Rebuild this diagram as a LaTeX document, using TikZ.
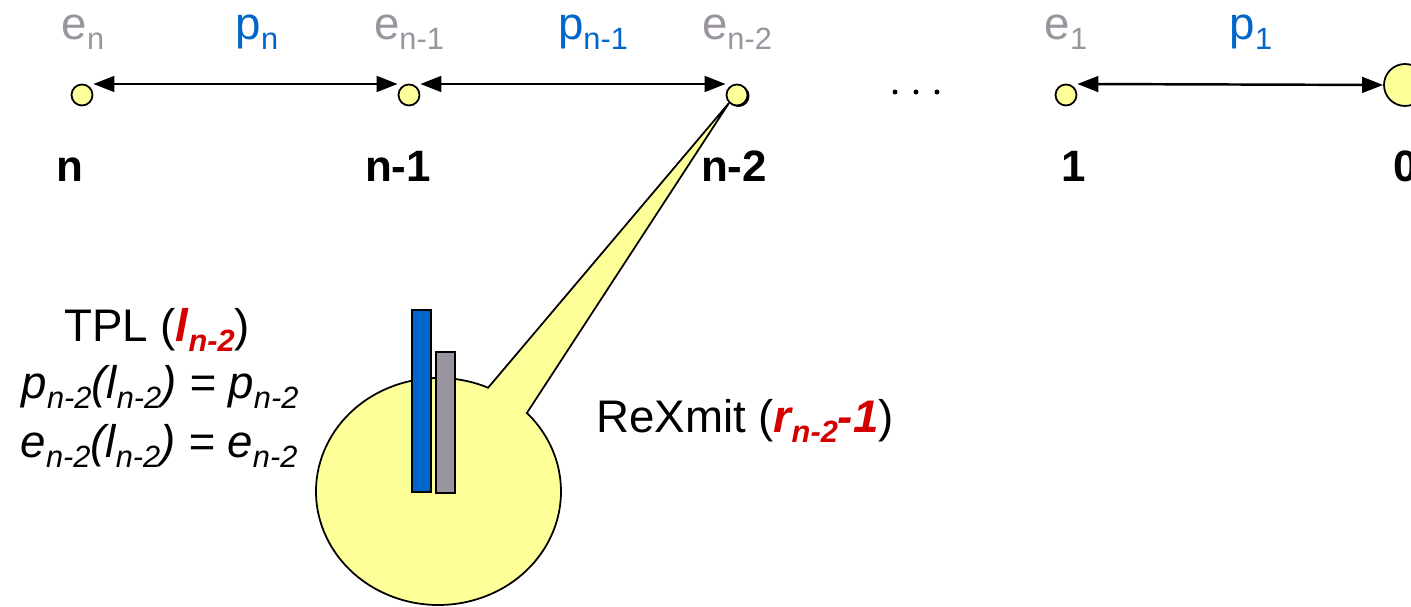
\documentclass[tikz,border=0pt]{standalone}
\usepackage{fontspec}
\setmainfont{Liberation Sans}
\usetikzlibrary{arrows.meta,positioning,calc}

\definecolor{nodeyellow}{HTML}{FFFF99}
\definecolor{errgrey}{HTML}{9A949E}
\definecolor{pblue}{HTML}{0066CC}
\definecolor{rexred}{HTML}{D40000}
\newcommand{\lowsub}[1]{\raisebox{-0.2em}{\fontsize{17.5}{20}\selectfont #1}}

\begin{document}
\begin{tikzpicture}[x=0.02cm,y=0.02cm,
  hop/.style={circle,draw,fill=nodeyellow,line width=1pt,minimum size=0.42cm,inner sep=0pt},
  link/.style={{Triangle[length=12pt,width=9pt]}-{Triangle[length=12pt,width=9pt]},line width=1.4pt},
  errlbl/.style={anchor=base,text=errgrey,font=\fontsize{26}{30}\selectfont},
  plbl/.style={anchor=base,text=pblue,font=\fontsize{26}{30}\selectfont},
  idx/.style={anchor=base,font=\fontsize{25}{30}\selectfont\bfseries},
  txt/.style={anchor=base,font=\fontsize{26}{30}\selectfont},
  bar/.style={draw,line width=0.8pt}]
\useasboundingbox (0,0) rectangle (1411,607);

% Callout balloon of node n-2
\filldraw[fill=nodeyellow,line width=1pt] (438.5,115.5) ++(66.1:122.5 and 113.5)
  arc[start angle=66.1,end angle=403.8,x radius=122.5,y radius=113.5] -- (729,504) -- cycle;

% Transmit power and retransmission bars
\filldraw[bar,fill=pblue] (412,115) rectangle (431,297);
\filldraw[bar,fill=errgrey] (436,114) rectangle (455,255);

% Relay nodes
\node[hop] (cn) at (82,512) {};
\node[hop] (cn1) at (409,512) {};
\fill (738.5,511) circle[radius=11];
\node[hop] (cn2) at (737,512) {};
\node[hop] (c1) at (1066,512) {};
\node[hop,minimum size=0.84cm] (sink) at (1405,522) {};

% Links
\draw[link] ($(cn.east)+(0,11)$) -- ($(cn1.west)+(0,11)$);
\draw[link] ($(cn1.east)+(0,11)$) -- ($(cn2.west)+(0,11)$);
\draw[link] ($(c1.east)+(0,11)$) -- (sink.west);
\foreach \x in {895,916,937} \fill (\x,515) circle[radius=2.5];

% Error and hop labels
\node[errlbl] (en) at (83,567) {e\lowsub{n}};
\node[plbl] (pn) at (257,567) {p\lowsub{n}};
\node[errlbl] (en1) at (409,567) {e\lowsub{n-1}};
\node[plbl] (pn1) at (593,567) {p\lowsub{n-1}};
\node[errlbl] (en2) at (737,567) {e\lowsub{n-2}};
\node[errlbl] (e1) at (1066,567) {e\lowsub{1}};
\node[plbl] (p1) at (1251,567) {p\lowsub{1}};

% Node indices
\node[idx] (in) at (70,425) {n};
\node[idx] (in1) at (398,425) {n-1};
\node[idx] (in2) at (734,425) {n-2};
\node[idx] (i1) at (1074,425) {1};
\node[idx] (i0) at (1406,425) {0};

% Power level and retransmission text
\node[txt] (tpl) at (157,265) {TPL (\textcolor{rexred}{\bfseries\itshape l\lowsub{n-2}})};
\node[txt] (prate) at (160,208) {\itshape p\lowsub{n-2}(l\lowsub{n-2}) = p\lowsub{n-2}};
\node[txt] (erate) at (159,149) {\itshape e\lowsub{n-2}(l\lowsub{n-2}) = e\lowsub{n-2}};
\node[txt] (rexmit) at (745,174) {ReXmit (\textcolor{rexred}{\bfseries\itshape r\lowsub{n-2}-1})};
\end{tikzpicture}
\end{document}
